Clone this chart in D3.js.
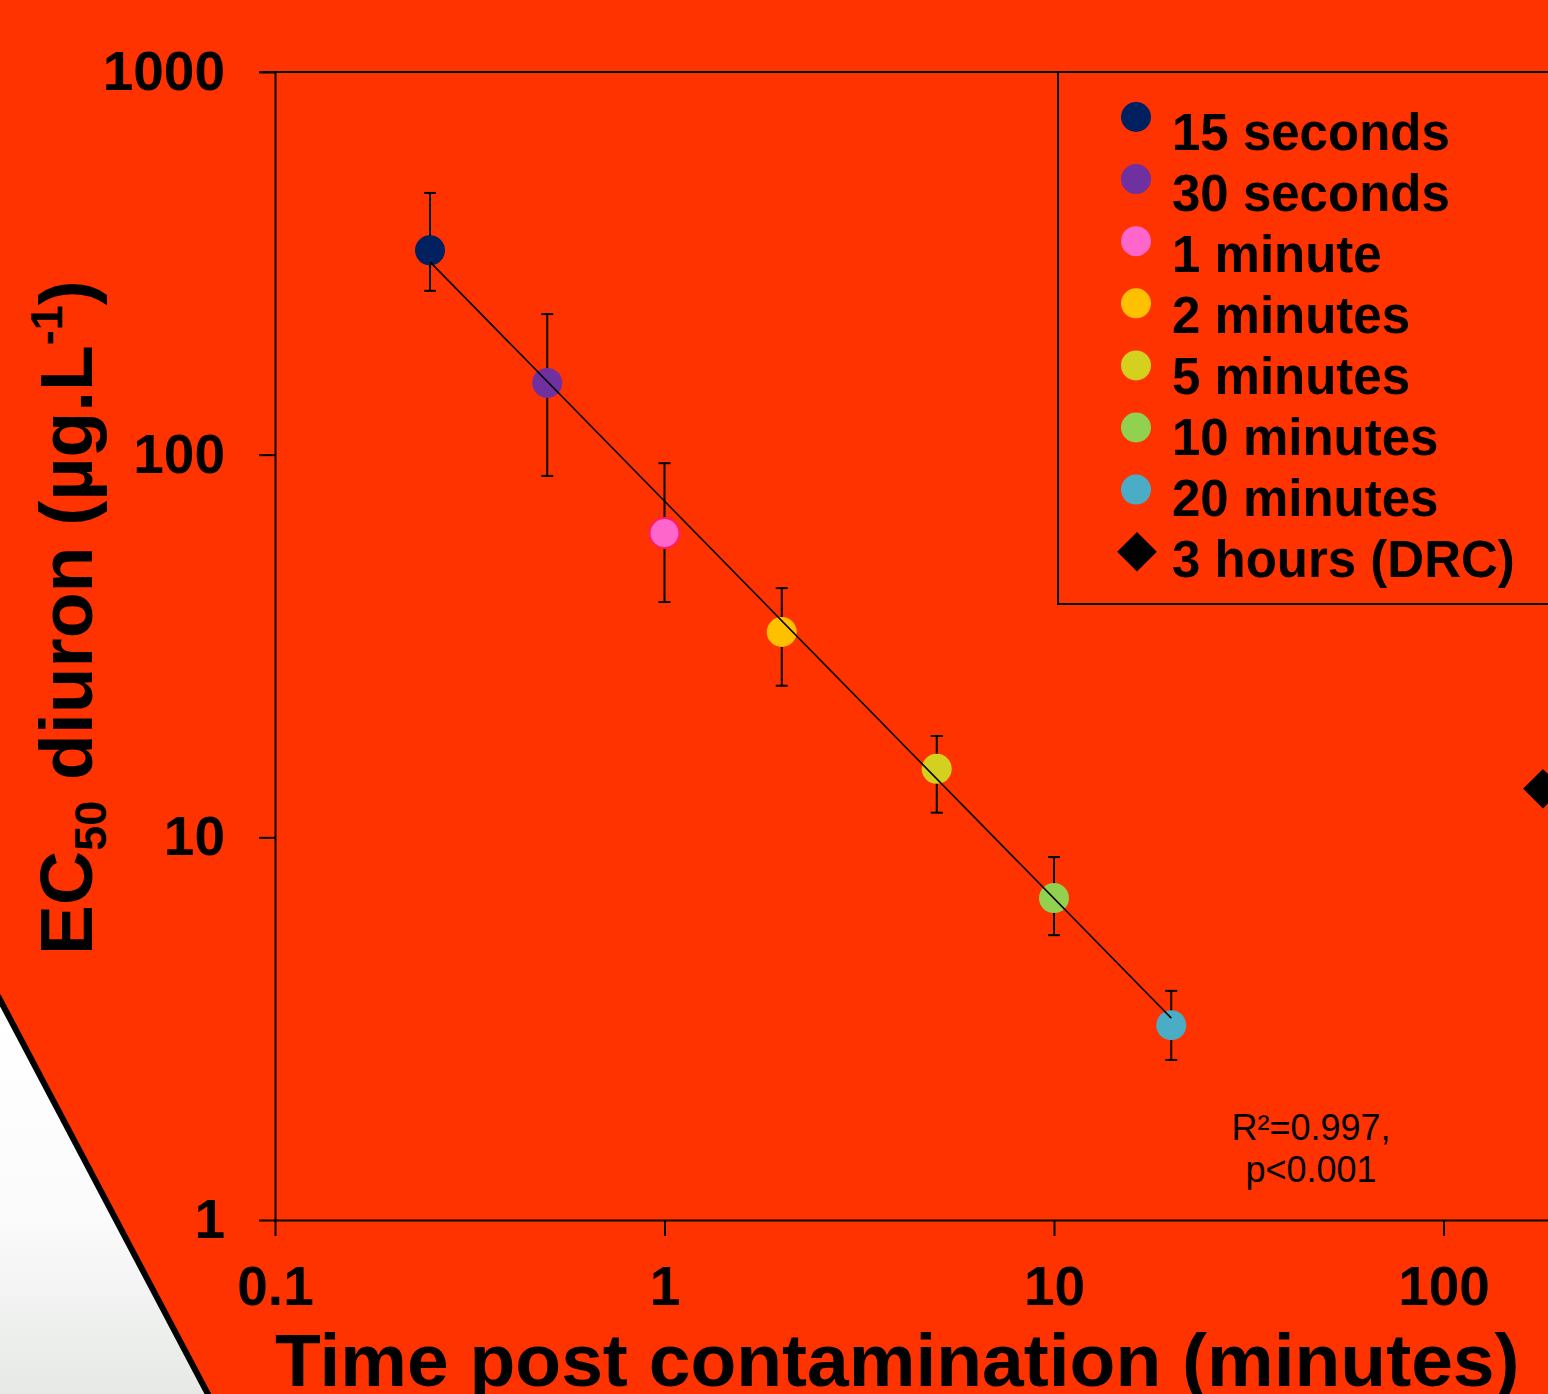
<!DOCTYPE html>
<html>
<head>
<meta charset="utf-8">
<script src="https://cdn.jsdelivr.net/npm/d3@7"></script>
<style>
  html, body { margin: 0; padding: 0; background: #ffffff; }
  svg { display: block; }
</style>
</head>
<body>
<svg id="chart"></svg>
<script>
// EC50 of diuron against time post contamination, log-log, with fit line

const W = 1548, H = 1394;
const FONT = "'Liberation Sans', Arial, sans-serif";
const BG = "#ff3300";

// exposure times, in minutes
const labels = ["15 seconds", "30 seconds", "1 minute", "2 minutes", "5 minutes", "10 minutes", "20 minutes"];
const times  = [0.25, 0.5, 1, 2, 5, 10, 20];
const ec50   = [342, 154, 62.4, 34.4, 15.1, 6.94, 3.23];
const errHi  = [483, 233, 95, 44.8, 18.4, 8.88, 3.97];
const errLo  = [268, 88, 41.2, 24.9, 11.6, 5.55, 2.62];
const colors = ["#002060", "#7030a0", "#ff66cc", "#ffc000", "#d4d020", "#92d050", "#4bacc6"];

// 3 hours dose-response curve reference
const drcTime = 180, drcValue = 13.4;

// regression line end points
const fitX = [0.25, 20];
const fitY = [319, 3.37];

const xTicks = [0.1, 1, 10, 100];
const yTicks = [1, 10, 100, 1000];

const svg = d3.select("#chart").attr("width", W).attr("height", H)
  .style("font-family", FONT);

// backdrop: pale panel bottom-left, orange everywhere else
const defs = svg.append("defs");
const grad = defs.append("linearGradient").attr("id", "pale")
  .attr("x1", 0).attr("y1", 0).attr("x2", 0).attr("y2", 1);
grad.append("stop").attr("offset", "0%").attr("stop-color", "#ffffff");
grad.append("stop").attr("offset", "55%").attr("stop-color", "#fbfbfb");
grad.append("stop").attr("offset", "100%").attr("stop-color", "#e6e9e6");
svg.append("rect").attr("x", 0).attr("y", 1000).attr("width", 300).attr("height", 394)
  .attr("fill", "url(#pale)");
svg.append("path")
  .attr("d", `M0,0 H${W} V${H} H208 L0,1000 Z`)
  .attr("fill", BG);
svg.append("line")
  .attr("x1", -2).attr("y1", 996).attr("x2", 210).attr("y2", H + 4)
  .attr("stroke", "#000").attr("stroke-width", 6);

const x = d3.scaleLog().domain([0.1, 1000]).range([275, 1833]);
const y = d3.scaleLog().domain([1, 1000]).range([1220, 72]);

// plot frame: top border
svg.append("line")
  .attr("x1", x(0.1) - 16).attr("x2", W + 10)
  .attr("y1", y(1000)).attr("y2", y(1000))
  .attr("stroke", "#000").attr("stroke-width", 2);

// axes
const yAxis = svg.append("g")
  .attr("transform", `translate(${x(0.1)},0)`)
  .call(d3.axisLeft(y).tickValues(yTicks).tickSize(16).tickSizeOuter(0).tickPadding(34)
    .tickFormat(d => d3.format("d")(d)));
const xAxis = svg.append("g")
  .attr("transform", `translate(0,${y(1)})`)
  .call(d3.axisBottom(x).tickValues(xTicks).tickSize(16).tickSizeOuter(0).tickPadding(30)
    .tickFormat(d => d < 1 ? "0.1" : d3.format("d")(d)));

[yAxis, xAxis].forEach(a => {
  a.select(".domain").attr("stroke", "#000").attr("stroke-width", 2);
  a.selectAll(".tick line").attr("stroke", "#000").attr("stroke-width", 2);
  a.selectAll(".tick text")
    .attr("fill", "#000")
    .attr("font-family", FONT)
    .attr("font-weight", "bold")
    .attr("font-size", 55);
});
xAxis.selectAll(".tick text").attr("dy", "0.71em");

// axis titles
svg.append("text")
  .attr("x", x(0.1)).attr("y", 1386)
  .attr("font-size", 75).attr("font-weight", "bold").attr("fill", "#000")
  .text("Time post contamination (minutes)");

const yt = svg.append("text")
  .attr("transform", "translate(92,955) rotate(-90)")
  .attr("font-size", 75).attr("font-weight", "bold").attr("fill", "#000");
yt.append("tspan").text("EC");
yt.append("tspan").attr("font-size", 45).attr("dy", 14).text("50");
yt.append("tspan").attr("dy", -14).text(" diuron (µg.L");
yt.append("tspan").attr("font-size", 45).attr("dy", -30).text("-1");
yt.append("tspan").attr("dy", 30).text(")");

// legend box
const legend = svg.append("g");
legend.append("rect")
  .attr("x", 1058).attr("y", y(1000))
  .attr("width", W).attr("height", 604 - y(1000))
  .attr("fill", "none").attr("stroke", "#000").attr("stroke-width", 2);

const legendItems = labels.map((l, i) => ({ label: l, color: colors[i], shape: "circle" }))
  .concat([{ label: "3 hours (DRC)", color: "#000", shape: "diamond" }]);

legendItems.forEach((item, i) => {
  const my = 117 + i * 62.1;
  const ty = 132 + i * 60.9;
  if (item.shape === "circle") {
    legend.append("circle").attr("cx", 1136).attr("cy", my).attr("r", 15)
      .attr("fill", item.color);
  } else {
    legend.append("path")
      .attr("d", d3.symbol(d3.symbolDiamond2, 1000)())
      .attr("transform", `translate(1137,${my})`)
      .attr("fill", "#000");
  }
  legend.append("text")
    .attr("x", 1172).attr("y", ty).attr("dy", "0.36em")
    .attr("font-size", 51).attr("font-weight", "bold").attr("fill", "#000")
    .text(item.label);
});

// error bars
const bars = svg.append("g").attr("stroke", "#000").attr("stroke-width", 2);
times.forEach((t, i) => {
  const cx = x(t);
  bars.append("line").attr("x1", cx).attr("x2", cx)
    .attr("y1", y(errHi[i])).attr("y2", y(errLo[i]));
  [errHi[i], errLo[i]].forEach(v => {
    bars.append("line").attr("x1", cx - 6).attr("x2", cx + 6)
      .attr("y1", y(v)).attr("y2", y(v));
  });
});

// points
times.forEach((t, i) => {
  svg.append("circle")
    .attr("cx", x(t)).attr("cy", y(ec50[i])).attr("r", 15)
    .attr("fill", colors[i])
    .attr("stroke", i === 2 ? "#ff1a66" : "none")
    .attr("stroke-width", 2);
});

// regression line
svg.append("line")
  .attr("x1", x(fitX[0])).attr("y1", y(fitY[0]))
  .attr("x2", x(fitX[1])).attr("y2", y(fitY[1]))
  .attr("stroke", "#000").attr("stroke-width", 1.6);

// 3 hours DRC marker (falls at the right edge)
svg.append("path")
  .attr("d", d3.symbol(d3.symbolDiamond2, 1000)())
  .attr("transform", `translate(${x(drcTime)},${y(drcValue)})`)
  .attr("fill", "#000");

// fit statistics
const stats = svg.append("text")
  .attr("text-anchor", "middle").attr("font-size", 36).attr("fill", "#000");
stats.append("tspan").attr("x", 1311).attr("y", 1140).text("R²=0.997,");
stats.append("tspan").attr("x", 1311).attr("y", 1182).text("p<0.001");
</script>
</body>
</html>
